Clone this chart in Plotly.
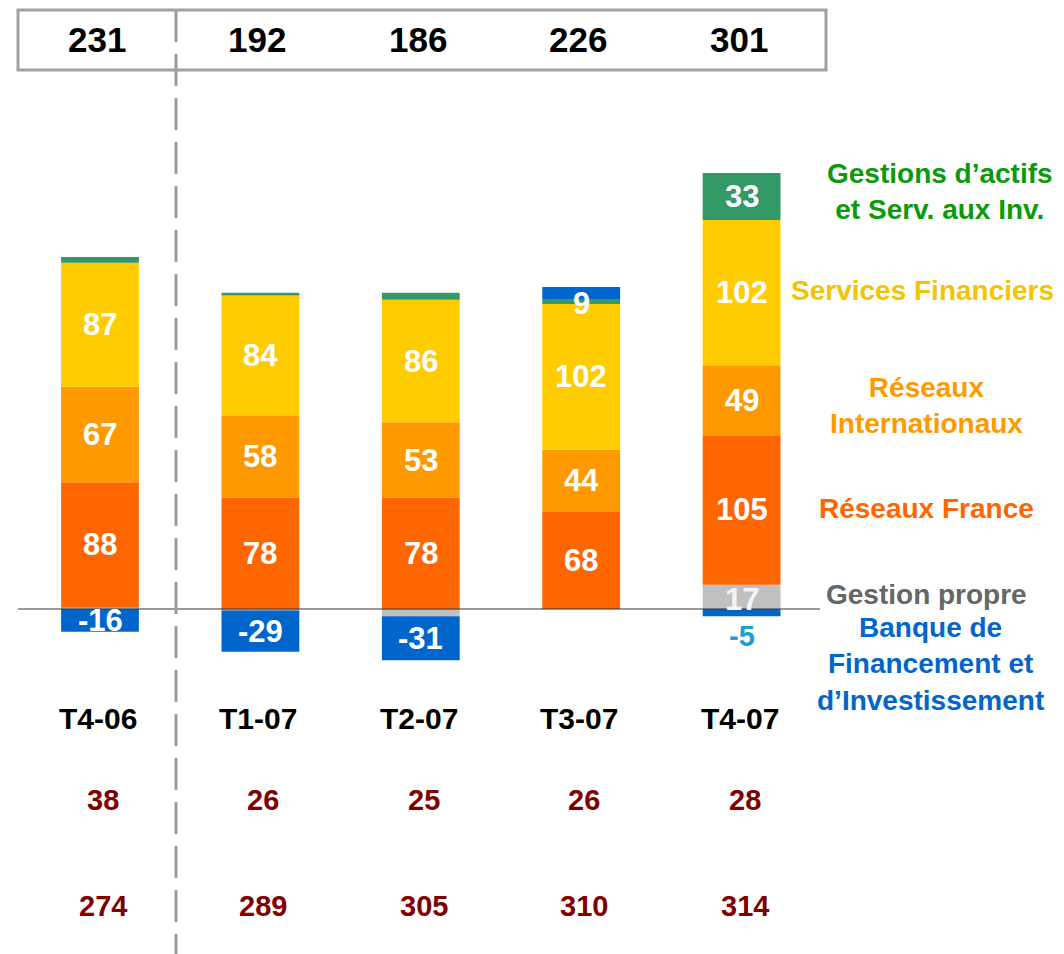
import plotly.graph_objects as go

categories = ["T4-06", "T1-07", "T2-07", "T3-07", "T4-07"]
gestion_propre = [1, -1, -5, 0, 17]
reseaux_france = [88, 78, 78, 68, 105]
reseaux_intl = [67, 58, 53, 44, 49]
services_fin = [87, 84, 86, 102, 102]
gestions_actifs = [4, 2, 5, 3, 33]
bfi = [-16, -29, -31, 9, -5]
totals = [231, 192, 186, 226, 301]
row_a = [38, 26, 25, 26, 28]
row_b = [274, 289, 305, 310, 314]

series = [
    ("Gestion propre", gestion_propre, "#C0C0C0"),
    ("Réseaux France", reseaux_france, "#FF6600"),
    ("Réseaux Internationaux", reseaux_intl, "#FF9900"),
    ("Services Financiers", services_fin, "#FFCC00"),
    ("Gestions d’actifs", gestions_actifs, "#339966"),
    ("BFI", bfi, "#0066CC"),
]

FONT = "Liberation Sans, Arial, sans-serif"
OFF = 8  # page body margin
W, H = 1064 - OFF, 954 - OFF
fig = go.Figure()
for name, vals, col in series:
    fig.add_trace(go.Bar(x=categories, y=vals, name=name, marker=dict(color=col, line=dict(width=0)),
                         width=0.485, hoverinfo="skip"))

# segment extents computed from stacking
pos = [0.0] * 5
neg = [0.0] * 5
extents = {}
for name, vals, col in series:
    cs = []
    for i, v in enumerate(vals):
        if v >= 0:
            cs.append((pos[i], pos[i] + v))
            pos[i] += v
        else:
            cs.append((neg[i] + v, neg[i]))
            neg[i] += v
    extents[name] = cs

ann = []
def seg_label(name, idx, text, color="white", yshift=0, size=31):
    lo, hi = extents[name][idx]
    ann.append(dict(x=categories[idx], y=(lo + hi) / 2, xref="x", yref="y", text=f"<b>{text}</b>",
                    showarrow=False, font=dict(family=FONT, size=size, color=color), yshift=yshift))

for i in range(5):
    seg_label("Réseaux France", i, reseaux_france[i])
    seg_label("Réseaux Internationaux", i, reseaux_intl[i])
    seg_label("Services Financiers", i, services_fin[i])
seg_label("Gestions d’actifs", 4, gestions_actifs[4])
seg_label("Gestion propre", 4, gestion_propre[4], color="#F4F4F4", yshift=-3)
for i in range(3):
    seg_label("BFI", i, bfi[i])
seg_label("BFI", 3, bfi[3], yshift=-10)
lo, hi = extents["BFI"][4]
ann.append(dict(x=categories[4], y=lo, xref="x", yref="y", text=f"<b>{bfi[4]}</b>", showarrow=False,
                font=dict(family=FONT, size=29, color="#1A9ED4"), yshift=-20))

def px(x):
    return (x - OFF) / W

def py(y):
    return 1 - (y - OFF) / H

def px_ann(x, y, text, color, size):
    ann.append(dict(x=px(x), y=py(y), xref="paper", yref="paper", text=text, showarrow=False,
                    font=dict(family=FONT, size=size, color=color), xanchor="center", yanchor="middle"))

for i, c in enumerate(categories):
    ann.append(dict(x=c, y=py(39), xref="x", yref="paper", text=f"<b>{totals[i]}</b>", showarrow=False,
                    font=dict(family=FONT, size=35, color="black"), yanchor="middle", xshift=-3))
    ann.append(dict(x=c, y=py(718), xref="x", yref="paper", text=f"<b>{c}</b>", showarrow=False,
                    font=dict(family=FONT, size=30, color="black"), yanchor="middle", xshift=-2))
    ann.append(dict(x=c, y=py(800), xref="x", yref="paper", text=f"<b>{row_a[i]}</b>", showarrow=False,
                    font=dict(family=FONT, size=29, color="#800000"), yanchor="middle", xshift=3))
    ann.append(dict(x=c, y=py(906), xref="x", yref="paper", text=f"<b>{row_b[i]}</b>", showarrow=False,
                    font=dict(family=FONT, size=29, color="#800000"), yanchor="middle", xshift=3))

px_ann(940, 192, "<b>Gestions d’actifs<br>et Serv. aux Inv.</b>", "#0A9A0A", 28)
px_ann(922, 291, "<b>Services Financiers</b>", "#F5C400", 28)
px_ann(926, 405, "<b>Réseaux<br>Internationaux</b>", "#FF9900", 28)
px_ann(926, 508, "<b>Réseaux France</b>", "#FF6600", 28)
px_ann(926, 594, "<b>Gestion propre</b>", "#666666", 28)
px_ann(930, 664, "<b>Banque de<br>Financement et<br>d’Investissement</b>", "#0066CC", 28)

shapes = [
    dict(type="line", xref="paper", yref="y", x0=px(18), x1=px(820), y0=0, y1=0,
         line=dict(color="#333333", width=1)),
    dict(type="line", xref="paper", yref="paper", x0=px(176), x1=px(176), y0=py(10), y1=0,
         line=dict(color="#9A9A9A", width=3, dash="32px,12px")),
    dict(type="rect", xref="paper", yref="paper", x0=px(18), x1=px(826), y0=py(70), y1=py(10),
         line=dict(color="#A0A0A0", width=3), fillcolor="rgba(0,0,0,0)"),
]

spacing = 160.4
x0 = -(100 - OFF) / spacing
x1 = x0 + W / spacing
scale = 1.425
zero_px = 609 - OFF
y_top = zero_px / scale
y_bot = -(H - zero_px) / scale

fig.update_layout(
    width=W, height=H, barmode="relative", showlegend=False,
    margin=dict(l=0, r=0, t=0, b=0), paper_bgcolor="white", plot_bgcolor="white",
    xaxis=dict(range=[x0, x1], visible=False, showgrid=False),
    yaxis=dict(range=[y_bot, y_top], visible=False, showgrid=False, zeroline=False),
    annotations=ann, shapes=shapes, font=dict(family=FONT),
)
fig.write_html("out.html")
